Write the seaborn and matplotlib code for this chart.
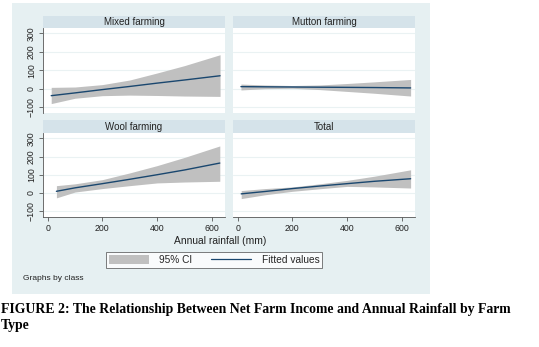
import numpy as np
import pandas as pd
import matplotlib
matplotlib.use("Agg")
import matplotlib.pyplot as plt
import seaborn as sns
from matplotlib.patches import Patch
from matplotlib.lines import Line2D

# Fitted values and 95% CI, per farm class
classes = ["Mixed farming", "Mutton farming", "Wool farming", "Total"]

mixed_x = [13, 100, 200, 300, 400, 500, 630]
mixed_fit = [-38, -23, -5, 12, 30, 47, 70]
mixed_lo = [-81, -52, -38, -35, -37, -40, -42]
mixed_hi = [7, 9, 22, 47, 85, 125, 184]

mutton_x = [12, 100, 200, 300, 400, 500, 632]
mutton_fit = [11, 10, 9, 8, 7, 6, 4]
mutton_lo = [-7, 0, 2, -5, -15, -25, -40]
mutton_hi = [25, 20, 17, 20, 28, 37, 50]

wool_x = [32, 100, 200, 300, 400, 500, 629]
wool_fit = [9, 28, 51, 75, 100, 126, 164]
wool_lo = [-27, 5, 24, 40, 55, 60, 64]
wool_hi = [40, 50, 73, 110, 150, 195, 258]

total_x = [13, 100, 200, 300, 400, 500, 632]
total_fit = [-5, 8, 24, 38, 51, 64, 78]
total_lo = [-31, -10, 9, 23, 36, 33, 27]
total_hi = [13, 24, 33, 50, 69, 92, 127]

rows = []
for name, xs, f, lo, hi in [
    ("Mixed farming", mixed_x, mixed_fit, mixed_lo, mixed_hi),
    ("Mutton farming", mutton_x, mutton_fit, mutton_lo, mutton_hi),
    ("Wool farming", wool_x, wool_fit, wool_lo, wool_hi),
    ("Total", total_x, total_fit, total_lo, total_hi),
]:
    for a, b, c, d in zip(xs, f, lo, hi):
        rows.append({"class": name, "rain": a, "fit": b, "lo": c, "hi": d})
df = pd.DataFrame(rows)

# Stata s2color-ish colours
region_col = "#e6f0f2"
strip_col = "#d5e3ea"
line_col = "#1a476f"
ci_col = "#c0c0c0"
grid_col = "#eaf2f3"

sns.set_style("white")
plt.rcParams["font.family"] = ["Liberation Sans", "DejaVu Sans"]

W, H = 539, 347
fig = plt.figure(figsize=(W / 100, H / 100), dpi=100)

def box(x0, y0, x1, y1):
    return [x0 / W, 1 - y1 / H, (x1 - x0) / W, (y1 - y0) / H]

# graph region background
bg = fig.add_axes(box(12, 3, 430, 294), zorder=-5)
bg.set_facecolor(region_col)
bg.set_xticks([])
bg.set_yticks([])
for sp in bg.spines.values():
    sp.set_visible(False)

panels = [(43, 225, 16, 28, 113), (233, 415, 16, 28, 113),
          (43, 225, 120, 133, 217), (233, 415, 120, 133, 217)]

for i, (name, (x0, x1, s0, y0, y1)) in enumerate(zip(classes, panels)):
    # strip title
    sax = fig.add_axes(box(x0, s0, x1, y0))
    sax.set_facecolor(strip_col)
    sax.set_xticks([])
    sax.set_yticks([])
    for sp in sax.spines.values():
        sp.set_visible(False)
    sax.text(0.5, 0.5, name, ha="center", va="center", fontsize=7.0, color="#222222")

    ax = fig.add_axes(box(x0, y0, x1, y1))
    ax.set_facecolor("white")
    sub = df[df["class"] == name]
    ax.fill_between(sub["rain"], sub["lo"], sub["hi"], color=ci_col, lw=0, zorder=2)
    sns.lineplot(data=sub, x="rain", y="fit", ax=ax, color=line_col, lw=1.0, zorder=3)
    ax.set_xlim(-17, 648)
    ax.set_ylim(-132, 329)
    ax.set_yticks([-100, 0, 100, 200, 300])
    ax.set_xticks([0, 200, 400, 600])
    for yv in [-100, 0, 100, 200, 300]:
        ax.axhline(yv, color=grid_col, lw=0.8, zorder=1)
    ax.set_xlabel("")
    ax.set_ylabel("")
    for sp in ax.spines.values():
        sp.set_visible(False)
    ax.tick_params(length=3, width=0.6, color="#555555", labelsize=6.3,
                   labelcolor="#222222", pad=2)
    if i % 2 == 0:
        ax.spines["left"].set_visible(True)
        ax.spines["left"].set_color("#555555")
        ax.spines["left"].set_linewidth(0.6)
        ax.tick_params(axis="y", left=True)
        for lab in ax.get_yticklabels():
            lab.set_rotation(90)
            lab.set_va("center")
    else:
        ax.tick_params(axis="y", left=False, labelleft=False)
    if i >= 2:
        ax.spines["bottom"].set_visible(True)
        ax.spines["bottom"].set_color("#555555")
        ax.spines["bottom"].set_linewidth(0.6)
        ax.tick_params(axis="x", bottom=True)
    else:
        ax.tick_params(axis="x", bottom=False, labelbottom=False)

fig.text(220 / W, 1 - 241 / H, "Annual rainfall (mm)", ha="center", va="center",
         fontsize=7.4, color="#222222")

handles = [Patch(facecolor=ci_col, edgecolor="none"),
           Line2D([], [], color=line_col, lw=0.9)]
leg = fig.legend(handles, ["95% CI", "Fitted values"], ncol=2,
                 loc="center", bbox_to_anchor=(214 / W, 1 - 260 / H),
                 fontsize=7.3, frameon=True, fancybox=False, handlelength=4.0,
                 handleheight=1.0, columnspacing=1.8, borderpad=0.3,
                 handletextpad=1.0)
leg.get_frame().set_edgecolor("#444444")
leg.get_frame().set_linewidth(0.6)

fig.text(23 / W, 1 - 278 / H, "Graphs by class", ha="left", va="center",
         fontsize=6.0, color="#222222")

fig.text(1 / W, 1 - 310 / H,
         "FIGURE 2: The Relationship Between Net Farm Income and Annual Rainfall by Farm",
         ha="left", va="center", fontsize=9.9, fontweight="bold",
         family="Liberation Serif", color="black")
fig.text(1 / W, 1 - 326 / H, "Type", ha="left", va="center", fontsize=9.9,
         fontweight="bold", family="Liberation Serif", color="black")

fig.savefig("out.png", dpi=100)
